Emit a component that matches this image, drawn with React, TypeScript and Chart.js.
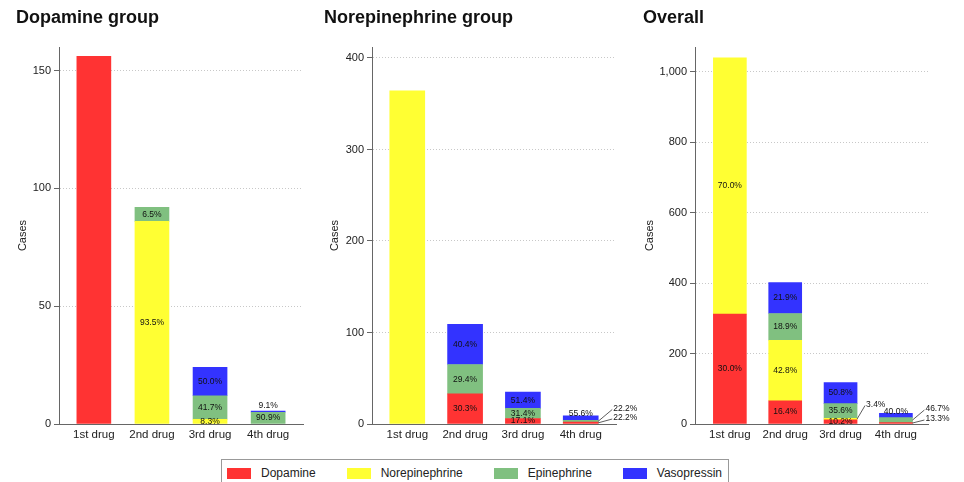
import React, { useEffect, useRef } from 'react';
import { Chart, registerables } from 'chart.js';

Chart.register(...registerables);

const FONT = 'Arial, "Liberation Sans", sans-serif';
Chart.defaults.font.family = FONT;
Chart.defaults.color = '#222';

// ---------- data ----------
const categories = ['1st drug', '2nd drug', '3rd drug', '4th drug'];
const seriesNames = ['Dopamine', 'Norepinephrine', 'Epinephrine', 'Vasopressin'];
const seriesColors = ['#FF3333', '#FFFF33', '#80C080', '#3333FF'];

// Dopamine group (cases)
const dopGroupDopamine = [156, 0, 0, 0];
const dopGroupNorepinephrine = [0, 86, 2, 0];
const dopGroupEpinephrine = [0, 6, 10, 5];
const dopGroupVasopressin = [0, 0, 12, 0.5];
const dopGroupTicks = [0, 50, 100, 150];

// Norepinephrine group (cases)
const neGroupDopamine = [0, 33, 6, 2];
const neGroupNorepinephrine = [364, 0, 0, 0];
const neGroupEpinephrine = [0, 32, 11, 2];
const neGroupVasopressin = [0, 44, 18, 5];
const neGroupTicks = [0, 100, 200, 300, 400];

// Overall (cases)
const overallDopamine = [312, 66, 12, 4];
const overallNorepinephrine = [728, 172, 4, 0];
const overallEpinephrine = [0, 76, 42, 14];
const overallVasopressin = [0, 88, 60, 12];
const overallTicks = [0, 200, 400, 600, 800, 1000];

// ---------- label plugin ----------
const pctPlugin = {
  id: 'pctLabels',
  afterDatasetsDraw(chart: any, _args: any, opts: any) {
    const { ctx } = chart;
    const ds = chart.data.datasets;
    const n = chart.data.labels.length;
    const zeroY = chart.scales.y.getPixelForValue(0);
    const placement = (opts && opts.placement) || {};
    ctx.save();
    ctx.font = '8.5px ' + FONT;
    ctx.fillStyle = '#111';
    ctx.strokeStyle = '#333';
    ctx.lineWidth = 0.8;
    for (let j = 0; j < n; j++) {
      const total = ds.reduce((s: number, d: any) => s + ((d.data[j] as number) || 0), 0);
      ds.forEach((d: any, i: number) => {
        const v = d.data[j] as number;
        if (!v || v >= total) return;
        const bar = chart.getDatasetMeta(i).data[j] as any;
        if (!bar) return;
        const text = ((v / total) * 100).toFixed(1) + '%';
        const mode = placement[`${i}-${j}`];
        const top = Math.min(bar.y, bar.base);
        const mid = (bar.y + bar.base) / 2;
        ctx.textBaseline = 'middle';
        if (mode && mode.type === 'callout') {
          const x0 = bar.x + bar.width / 2;
          const lx = x0 + mode.dx;
          const ly = zeroY + mode.dy;
          ctx.beginPath();
          ctx.moveTo(x0, mid);
          ctx.lineTo(lx - 1, ly + 1);
          ctx.stroke();
          ctx.textAlign = 'left';
          ctx.fillText(text, lx, ly);
        } else {
          let y = mid;
          if (mode && mode.type === 'above') y = top - 5;
          if (mode && mode.type === 'edge') y = top - 2;
          ctx.textAlign = 'center';
          ctx.fillText(text, bar.x, y);
        }
      });
    }
    ctx.restore();
  },
};

type Panel = {
  title: string;
  series: number[][];
  ticks: number[];
  yMax: number;
  xMin: number;
  xMax: number;
  barThickness: number;
  left: number;
  width: number;
  padLeft: number;
  padRight: number;
  yWidth: number;
  titlePad: number;
  placement: Record<string, any>;
};

const panels: Panel[] = [
  {
    title: 'Dopamine group',
    series: [dopGroupDopamine, dopGroupNorepinephrine, dopGroupEpinephrine, dopGroupVasopressin],
    ticks: dopGroupTicks,
    yMax: 160,
    xMin: -0.6,
    xMax: 3.6,
    barThickness: 34,
    left: 0,
    width: 320,
    padLeft: 16,
    padRight: 17,
    yWidth: 43,
    titlePad: 0,
    placement: { '3-3': { type: 'above' } },
  },
  {
    title: 'Norepinephrine group',
    series: [neGroupDopamine, neGroupNorepinephrine, neGroupEpinephrine, neGroupVasopressin],
    ticks: neGroupTicks,
    yMax: 412,
    xMin: -0.61,
    xMax: 3.61,
    barThickness: 35,
    left: 320,
    width: 320,
    padLeft: 4,
    padRight: 24,
    yWidth: 48,
    titlePad: 4,
    placement: {
      '3-3': { type: 'edge' },
      '0-3': { type: 'callout', dx: 15, dy: -6 },
      '2-3': { type: 'callout', dx: 15, dy: -15.5 },
    },
  },
  {
    title: 'Overall',
    series: [overallDopamine, overallNorepinephrine, overallEpinephrine, overallVasopressin],
    ticks: overallTicks,
    yMax: 1071,
    xMin: -0.63,
    xMax: 3.58,
    barThickness: 33,
    left: 640,
    width: 324,
    padLeft: 3,
    padRight: 36,
    yWidth: 52,
    titlePad: 0,
    placement: {
      '3-3': { type: 'edge' },
      '1-2': { type: 'callout', dx: 9, dy: -19.5 },
      '0-3': { type: 'callout', dx: 13, dy: -5 },
      '2-3': { type: 'callout', dx: 13, dy: -15 },
    },
  },
];

function PanelChart({ p }: { p: Panel }) {
  const ref = useRef<HTMLCanvasElement | null>(null);
  useEffect(() => {
    if (!ref.current) return;
    const chart = new Chart(ref.current, {
      type: 'bar',
      data: {
        labels: categories.map((_, i) => i),
        datasets: seriesNames.map((name, i) => ({
          label: name,
          data: p.series[i].map((v) => (v === 0 ? null : v)),
          backgroundColor: seriesColors[i],
          borderWidth: 0,
          barThickness: p.barThickness,
        })),
      },
      options: {
        animation: false,
        responsive: false,
        maintainAspectRatio: false,
        layout: { padding: { left: p.padLeft, right: p.padRight, top: 0, bottom: 0 } },
        plugins: {
          legend: { display: false },
          tooltip: { enabled: false },
          title: {
            display: true,
            text: p.title,
            align: 'start',
            color: '#111',
            font: { size: 18, weight: 'bold', family: FONT },
            padding: { top: 7, bottom: 18.4 },
          },
          pctLabels: { placement: p.placement },
        } as any,
        scales: {
          x: {
            type: 'linear',
            stacked: true,
            offset: false,
            bounds: 'data',
            min: p.xMin,
            max: p.xMax,
            grid: { display: false, drawTicks: false, offset: false },
            border: { display: true, color: '#666', width: 1 },
            ticks: {
              padding: 4,
              font: { size: 11.5 },
              color: '#222',
              callback: (v: any) => categories[v] ?? '',
            },
            afterBuildTicks: (s: any) => {
              s.ticks = categories.map((_, i) => ({ value: i }));
            },
            afterFit: (s: any) => {
              s.height = 26;
            },
          },
          y: {
            type: 'linear',
            stacked: true,
            min: 0,
            max: p.yMax,
            title: {
              display: true,
              text: 'Cases',
              font: { size: 11 },
              color: '#222',
              padding: { top: p.titlePad, bottom: 0 },
            },
            grid: {
              color: (c: any) => (c.tick && c.tick.value === 0 ? 'rgba(0,0,0,0)' : '#c8c8c8'),
              tickColor: '#666',
              tickLength: 5,
              lineWidth: 1,
            },
            border: { display: true, color: '#666', width: 1, dash: [1, 2] },
            ticks: {
              padding: 3,
              font: { size: 11 },
              color: '#222',
              callback: (v: any) => Number(v).toLocaleString('en-US'),
            },
            afterBuildTicks: (s: any) => {
              s.ticks = p.ticks.map((v) => ({ value: v }));
            },
            afterFit: (s: any) => {
              s.width = p.yWidth;
            },
          },
        } as any,
      },
      plugins: [pctPlugin as any],
    });
    return () => chart.destroy();
  }, [p]);
  return (
    <canvas
      ref={ref}
      width={p.width}
      height={450}
      style={{ position: 'absolute', left: p.left, top: 0, width: p.width, height: 450 }}
    />
  );
}

export default function App() {
  return (
    <div
      style={{
        position: 'absolute',
        left: 0,
        top: 0,
        width: 964,
        height: 482,
        overflow: 'hidden',
        background: '#fff',
        fontFamily: FONT,
      }}
    >
      {panels.map((p) => (
        <PanelChart key={p.title} p={p} />
      ))}
      <div
        style={{
          position: 'absolute',
          left: 221,
          top: 459,
          width: 508,
          height: 30,
          boxSizing: 'border-box',
          border: '1px solid #999',
          display: 'flex',
          alignItems: 'flex-start',
          paddingLeft: 5,
          paddingTop: 8,
        }}
      >
        {seriesNames.map((name, i) => (
          <div
            key={name}
            style={{
              display: 'flex',
              alignItems: 'center',
              marginRight: i < seriesNames.length - 1 ? 31 : 0,
              height: 11,
            }}
          >
            <span
              style={{
                display: 'inline-block',
                width: 24,
                height: 11,
                background: seriesColors[i],
                marginRight: 10,
              }}
            />
            <span style={{ fontSize: 12, color: '#222', lineHeight: '11px', whiteSpace: 'nowrap' }}>{name}</span>
          </div>
        ))}
      </div>
    </div>
  );
}
